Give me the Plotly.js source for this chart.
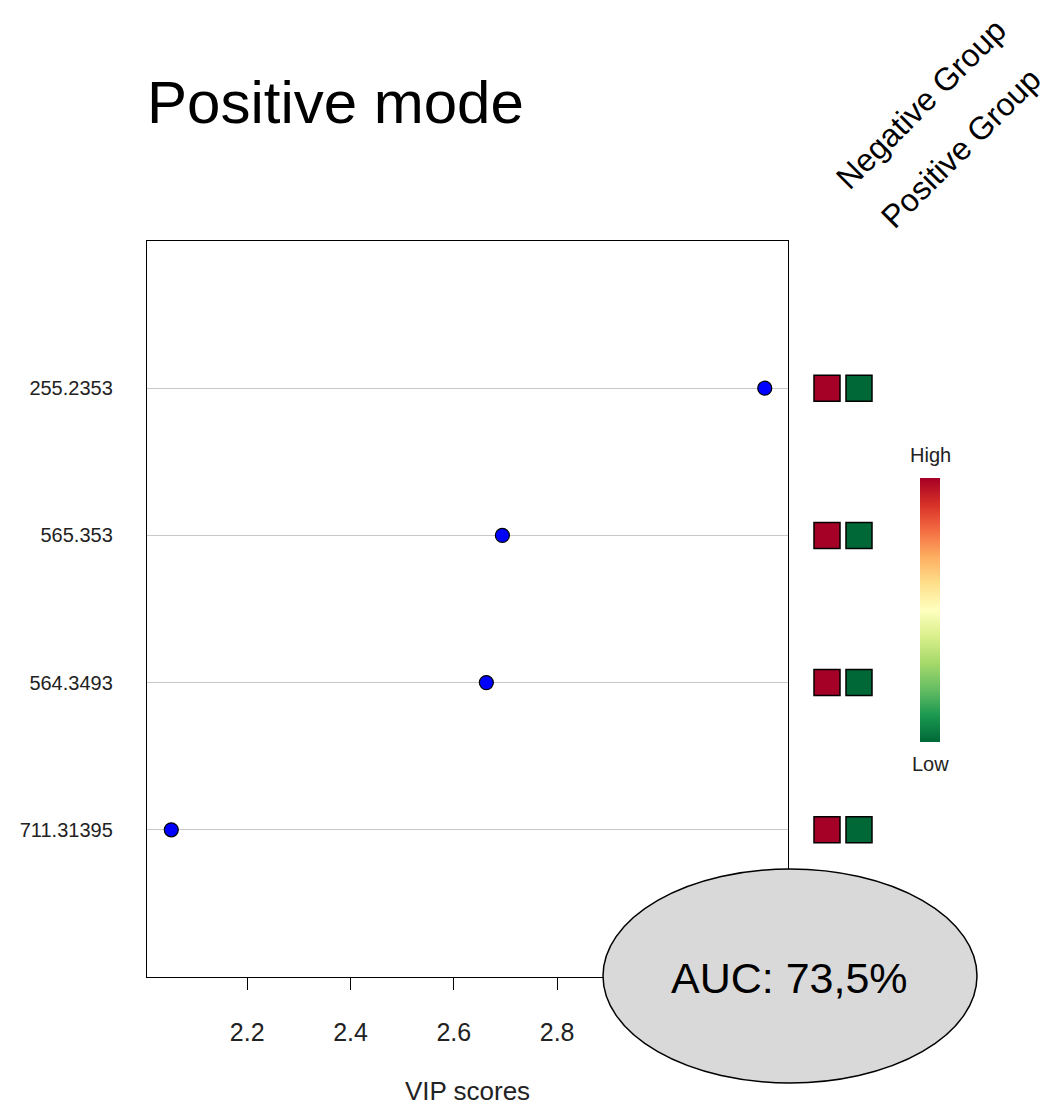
<!DOCTYPE html>
<html>
<head>
<meta charset="utf-8">
<script src="https://cdn.plot.ly/plotly-3.0.1.min.js"></script>
<style>html,body{margin:0;padding:0;background:#fff;}</style>
</head>
<body>
<div id="chart" style="width:1050px;height:1106px;"></div>
<script>
// ---- data ----
const features = ["711.31395", "564.3493", "565.353", "255.2353"]; // bottom to top
const vipScores = [2.053, 2.663, 2.694, 3.202];
const groups = ["Negative Group", "Positive Group"];
const negativeGroupLevel = [1, 1, 1, 1]; // relative level (1 = High, 0 = Low)
const positiveGroupLevel = [0, 0, 0, 0];
const xTickVals = [2.2, 2.4, 2.6, 2.8, 3.0, 3.2];
const aucText = "AUC: 73,5%";

const rdylgn = [
  [0.0, '#006837'], [0.1, '#1a9850'], [0.2, '#66bd63'], [0.3, '#a6d96a'],
  [0.4, '#d9ef8b'], [0.5, '#ffffbf'], [0.6, '#fee08b'], [0.7, '#fdae61'],
  [0.8, '#f46d43'], [0.9, '#d73027'], [1.0, '#a50026']
];

// heat squares built from group arrays
const sqX = [], sqY = [], sqC = [];
features.forEach((f, i) => {
  sqX.push(groups[0]); sqY.push(f); sqC.push(negativeGroupLevel[i]);
  sqX.push(groups[1]); sqY.push(f); sqC.push(positiveGroupLevel[i]);
});

const L = 147, R = 170, T = 241, B = 129, W = 1050, H = 1106;
const pw = W - L - R, ph = H - T - B;
const px = v => (v - L) / pw;          // page px -> paper x
const py = v => (H - B - v) / ph;      // page px -> paper y

const traces = [
  {
    type: 'scatter', mode: 'markers',
    x: vipScores, y: features, xaxis: 'x', yaxis: 'y',
    marker: {color: '#0000ff', size: 14, line: {color: '#000', width: 1.2}},
    hoverinfo: 'x+y', showlegend: false
  },
  {
    type: 'scatter', mode: 'markers',
    x: sqX, y: sqY, xaxis: 'x2', yaxis: 'y2',
    marker: {
      symbol: 'square', size: 26, color: sqC, cmin: 0, cmax: 1,
      colorscale: rdylgn, line: {color: '#000', width: 1.5},
      showscale: true,
      colorbar: {
        x: px(920), xanchor: 'left', xref: 'paper', xpad: 0,
        y: py(610), yanchor: 'middle', yref: 'paper', ypad: 0,
        thickness: 20, thicknessmode: 'pixels',
        len: 264, lenmode: 'pixels',
        outlinewidth: 0, showticklabels: false, ticks: ''
      }
    },
    hoverinfo: 'x+y', showlegend: false
  }
];

const layout = {
  width: W, height: H,
  margin: {l: L, r: R, t: T, b: B},
  paper_bgcolor: '#fff', plot_bgcolor: '#fff',
  font: {family: '"Liberation Sans", Arial, sans-serif', color: '#000'},
  title: {
    text: 'Positive mode',
    font: {size: 60, family: '"Liberation Sans", Arial, sans-serif', color: '#000'},
    x: 0, xref: 'paper', xanchor: 'left',
    y: 1 - 102 / H, yref: 'container', yanchor: 'middle'
  },
  xaxis: {
    domain: [0, (788 - L) / pw],
    range: [2.006, 3.247],
    tickvals: xTickVals,
    ticktext: xTickVals.map(v => v.toFixed(1)),
    ticks: 'outside', ticklen: 12, tickwidth: 1, tickcolor: '#000',
    tickfont: {size: 25, color: '#222'},
    ticklabelstandoff: 21,
    showgrid: false, zeroline: false,
    showline: true, mirror: true, linecolor: '#000', linewidth: 1.2,
    title: {text: 'VIP scores', font: {size: 26, color: '#222'}, standoff: 42}
  },
  yaxis: {
    type: 'category', categoryarray: features, categoryorder: 'array',
    range: [-1, 4],
    ticks: '', ticklabelstandoff: 29,
    tickfont: {size: 20, color: '#222'},
    showgrid: true, gridcolor: '#c8c8c8', gridwidth: 1,
    zeroline: false,
    showline: true, mirror: true, linecolor: '#000', linewidth: 1.2
  },
  xaxis2: {
    type: 'category', categoryarray: groups, categoryorder: 'array',
    domain: [px(811), px(875)], range: [-0.5, 1.5], anchor: 'y2',
    visible: false, showgrid: false, zeroline: false
  },
  yaxis2: {
    type: 'category', categoryarray: features, categoryorder: 'array',
    range: [-1, 4], anchor: 'x2', domain: [0, 1],
    visible: false, showgrid: false, zeroline: false
  },
  shapes: [{
    type: 'circle', xref: 'paper', yref: 'paper', layer: 'above',
    x0: px(603), x1: px(977), y0: py(1083), y1: py(869),
    fillcolor: '#d9d9d9', line: {color: '#000', width: 1.5}
  }],
  annotations: [
    {
      text: aucText, xref: 'paper', yref: 'paper',
      x: px(789), y: py(978), xanchor: 'center', yanchor: 'middle',
      showarrow: false,
      font: {size: 43, family: '"Liberation Sans Narrow", "Arial Narrow", "Liberation Sans", sans-serif', color: '#000'}
    },
    {
      text: groups[0], xref: 'paper', yref: 'paper',
      x: px(921), y: py(104), xanchor: 'center', yanchor: 'middle',
      textangle: -45, showarrow: false,
      font: {size: 32, color: '#000'}
    },
    {
      text: groups[1], xref: 'paper', yref: 'paper',
      x: px(961), y: py(148), xanchor: 'center', yanchor: 'middle',
      textangle: -45, showarrow: false,
      font: {size: 32, color: '#000'}
    },
    {
      text: 'High', xref: 'paper', yref: 'paper',
      x: px(930), y: py(455), xanchor: 'center', yanchor: 'middle',
      showarrow: false, font: {size: 20, color: '#222'}
    },
    {
      text: 'Low', xref: 'paper', yref: 'paper',
      x: px(930), y: py(764), xanchor: 'center', yanchor: 'middle',
      showarrow: false, font: {size: 20, color: '#222'}
    }
  ]
};

Plotly.newPlot('chart', traces, layout, {displayModeBar: false, staticPlot: true});
</script>
</body>
</html>
